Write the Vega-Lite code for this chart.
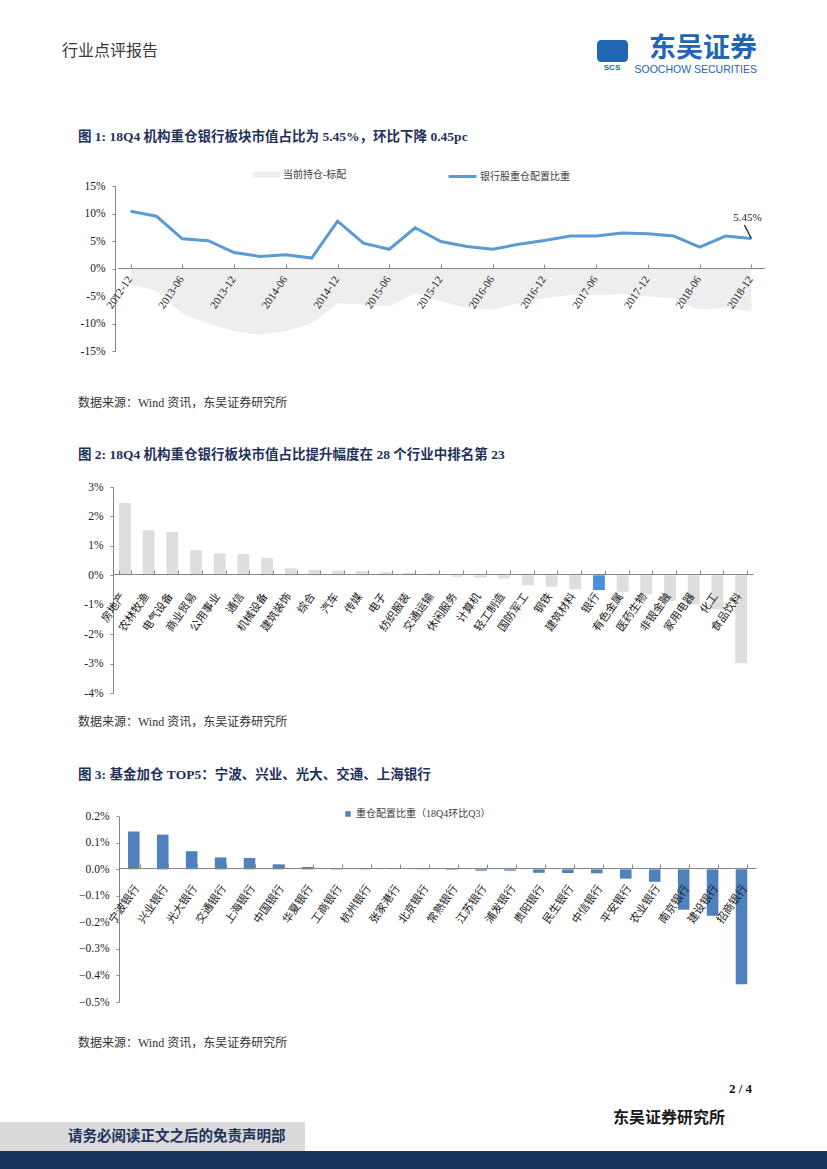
{
  "$schema": "https://vega.github.io/schema/vega-lite/v6.json",
  "background": "white",
  "padding": 0,
  "spacing": 0,
  "config": {"view": {"stroke": null}, "concat": {"spacing": 0}},
  "resolve": {"scale": {"color": "independent", "fill": "independent", "stroke": "independent"}, "legend": {"color": "independent", "fill": "independent", "stroke": "independent"}},
  "datasets": {
    "c1line": [
      {"d": "2012-12", "v": 10.4}, {"d": "2013-03", "v": 9.5}, {"d": "2013-06", "v": 5.4}, {"d": "2013-09", "v": 5.06},
      {"d": "2013-12", "v": 2.9}, {"d": "2014-03", "v": 2.2}, {"d": "2014-06", "v": 2.5}, {"d": "2014-09", "v": 1.9},
      {"d": "2014-12", "v": 8.6}, {"d": "2015-03", "v": 4.6}, {"d": "2015-06", "v": 3.5}, {"d": "2015-09", "v": 7.4},
      {"d": "2015-12", "v": 4.9}, {"d": "2016-03", "v": 4.0}, {"d": "2016-06", "v": 3.5}, {"d": "2016-09", "v": 4.4},
      {"d": "2016-12", "v": 5.1}, {"d": "2017-03", "v": 5.9}, {"d": "2017-06", "v": 5.9}, {"d": "2017-09", "v": 6.45},
      {"d": "2017-12", "v": 6.3}, {"d": "2018-03", "v": 5.9}, {"d": "2018-06", "v": 3.9}, {"d": "2018-09", "v": 5.9},
      {"d": "2018-12", "v": 5.45}
    ],
    "c1area": [
      {"d": "2012-12", "v": -2.9}, {"d": "2013-03", "v": -4.1}, {"d": "2013-06", "v": -8.2}, {"d": "2013-09", "v": -10.0},
      {"d": "2013-12", "v": -11.4}, {"d": "2014-03", "v": -12.1}, {"d": "2014-06", "v": -11.4}, {"d": "2014-09", "v": -10.0},
      {"d": "2014-12", "v": -6.3}, {"d": "2015-03", "v": -6.5}, {"d": "2015-06", "v": -6.9}, {"d": "2015-09", "v": -4.5},
      {"d": "2015-12", "v": -6.0}, {"d": "2016-03", "v": -7.2}, {"d": "2016-06", "v": -7.5}, {"d": "2016-09", "v": -6.3},
      {"d": "2016-12", "v": -5.4}, {"d": "2017-03", "v": -4.8}, {"d": "2017-06", "v": -4.8}, {"d": "2017-09", "v": -4.7},
      {"d": "2017-12", "v": -5.1}, {"d": "2018-03", "v": -5.4}, {"d": "2018-06", "v": -7.5}, {"d": "2018-09", "v": -7.2},
      {"d": "2018-12", "v": -7.8}
    ],
    "c1last": [{"d": "2018-12", "v": 5.45, "lab": "5.45%"}],
    "c2": [
      {"n": "房地产", "v": 2.46}, {"n": "农林牧渔", "v": 1.53}, {"n": "电气设备", "v": 1.47}, {"n": "商业贸易", "v": 0.85},
      {"n": "公用事业", "v": 0.74}, {"n": "通信", "v": 0.72}, {"n": "机械设备", "v": 0.59}, {"n": "建筑装饰", "v": 0.24},
      {"n": "综合", "v": 0.18}, {"n": "汽车", "v": 0.16}, {"n": "传媒", "v": 0.14}, {"n": "电子", "v": 0.11},
      {"n": "纺织服装", "v": 0.08}, {"n": "交通运输", "v": 0.06}, {"n": "休闲服务", "v": -0.05}, {"n": "计算机", "v": -0.08},
      {"n": "轻工制造", "v": -0.11}, {"n": "国防军工", "v": -0.34}, {"n": "钢铁", "v": -0.39}, {"n": "建筑材料", "v": -0.48},
      {"n": "银行", "v": -0.5}, {"n": "有色金属", "v": -0.56}, {"n": "医药生物", "v": -0.64}, {"n": "非银金融", "v": -0.87},
      {"n": "家用电器", "v": -0.99}, {"n": "化工", "v": -1.16}, {"n": "食品饮料", "v": -2.99}
    ],
    "c3": [
      {"n": "宁波银行", "v": 0.143}, {"n": "兴业银行", "v": 0.131}, {"n": "光大银行", "v": 0.068}, {"n": "交通银行", "v": 0.045},
      {"n": "上海银行", "v": 0.043}, {"n": "中国银行", "v": 0.019}, {"n": "华夏银行", "v": 0.009}, {"n": "工商银行", "v": 0.004},
      {"n": "杭州银行", "v": 0.001}, {"n": "张家港行", "v": 0.0005}, {"n": "北京银行", "v": -0.001}, {"n": "常熟银行", "v": -0.002},
      {"n": "江苏银行", "v": -0.005}, {"n": "浦发银行", "v": -0.005}, {"n": "贵阳银行", "v": -0.013}, {"n": "民生银行", "v": -0.014},
      {"n": "中信银行", "v": -0.015}, {"n": "平安银行", "v": -0.035}, {"n": "农业银行", "v": -0.047}, {"n": "南京银行", "v": -0.152},
      {"n": "建设银行", "v": -0.175}, {"n": "招商银行", "v": -0.433}
    ]
  },
  "vconcat": [
    {
      "width": 707,
      "height": 430,
      "layer": [
        {"data": {"values": [{}]}, "mark": {"type": "text", "text": "行业点评报告", "x": -6, "y": 50, "align": "left", "baseline": "middle", "font": "Noto Sans CJK SC", "fontSize": 16, "color": "#3a3a3a"}, "encoding": {}},
        {"data": {"values": [{}]}, "mark": {"type": "rule", "x": -6, "x2": 90, "y": 61, "y2": 61, "color": "#8a8a8a", "strokeWidth": 1}, "encoding": {}},
        {"data": {"values": [{}]}, "mark": {"type": "rect", "x": 529, "x2": 560, "y": 39, "y2": 61, "color": "#2166b3", "cornerRadius": 4}, "encoding": {}},
        {"data": {"values": [{}]}, "mark": {"type": "rule", "x": 537, "x2": 552, "y": 56, "y2": 44, "color": "white", "strokeWidth": 4, "strokeCap": "round"}, "encoding": {}},
        {"data": {"values": [{}]}, "mark": {"type": "text", "text": "SCS", "x": 544, "y": 67, "align": "center", "baseline": "middle", "font": "Liberation Sans", "fontWeight": "bold", "fontSize": 8, "color": "#2166b3"}, "encoding": {}},
        {"data": {"values": [{}]}, "mark": {"type": "rule", "x": 530, "x2": 560, "y": 72, "y2": 72, "color": "#f0a020", "strokeWidth": 2}, "encoding": {}},
        {"data": {"values": [{}]}, "mark": {"type": "text", "text": "东吴证券", "x": 689, "y": 48, "align": "right", "baseline": "middle", "font": "Noto Sans CJK SC", "fontWeight": "bold", "fontSize": 27, "color": "#2166b3"}, "encoding": {}},
        {"data": {"values": [{}]}, "mark": {"type": "text", "text": "SOOCHOW SECURITIES", "x": 689, "y": 69, "align": "right", "baseline": "middle", "font": "Liberation Sans", "fontSize": 10.5, "color": "#2166b3"}, "encoding": {}},
        {"data": {"values": [{}]}, "mark": {"type": "rule", "x": 696, "x2": 699, "y": 79, "y2": 79, "color": "#333", "strokeWidth": 1}, "encoding": {}},
        {"data": {"values": [{}]}, "mark": {"type": "text", "text": "图 1: 18Q4 机构重仓银行板块市值占比为 5.45%，环比下降 0.45pc", "x": 10, "y": 136, "align": "left", "baseline": "middle", "font": "Liberation Serif, Noto Sans CJK SC", "fontWeight": "bold", "fontSize": 13.5, "color": "#1f325a"}, "encoding": {}},
        {"data": {"values": [{}]}, "mark": {"type": "rule", "x": 0, "x2": 707, "y": 148, "y2": 148, "color": "#111", "strokeWidth": 2}, "encoding": {}},
        {"data": {"values": [{}]}, "mark": {"type": "rule", "x": 0, "x2": 707, "y": 385, "y2": 385, "color": "#222", "strokeWidth": 1.5}, "encoding": {}},
        {"data": {"values": [{}]}, "mark": {"type": "text", "text": "数据来源：Wind 资讯，东吴证券研究所", "x": 10, "y": 402, "align": "left", "baseline": "middle", "font": "Liberation Serif, Noto Sans CJK SC", "fontSize": 12, "color": "#333"}, "encoding": {}},
        {
          "data": {"name": "c1area"},
          "mark": {"type": "area", "opacity": 1},
          "encoding": {
            "x": {"field": "d", "type": "ordinal", "sort": null,
              "scale": {"type": "point", "range": [49.7, 696.3]},
              "axis": {"title": null, "values": ["2012-12", "2013-06", "2013-12", "2014-06", "2014-12", "2015-06", "2015-12", "2016-06", "2016-12", "2017-06", "2017-12", "2018-06", "2018-12"],
                "offset": -163, "zindex": 1, "labelAngle": -56, "labelAlign": "right", "labelBaseline": "middle", "labelOffset": -1, "labelPadding": 13,
                "labelFont": "Liberation Serif", "labelFontSize": 11, "labelColor": "#1a1a1a", "labelOverlap": false,
                "tickSize": -4, "tickColor": "#868686", "domainColor": "#868686", "grid": false}},
            "y": {"field": "v", "type": "quantitative",
              "scale": {"domain": [-15, 15], "range": [350, 185], "nice": false},
              "axis": {"title": null, "values": [-15, -10, -5, 0, 5, 10, 15], "labelExpr": "datum.value + '%'", "offset": -47,
                "tickSize": 3, "labelPadding": 7, "labelFont": "Liberation Serif", "labelFontSize": 11.5, "labelColor": "#1a1a1a",
                "tickColor": "#868686", "domainColor": "#868686", "grid": false}},
            "fill": {"datum": "当前持仓-标配", "type": "nominal",
              "scale": {"domain": ["当前持仓-标配"], "range": ["#eeeeee"]},
              "legend": {"orient": "none", "legendX": 185, "legendY": 160, "direction": "horizontal", "title": null,
                "labelFont": "Liberation Serif, Noto Sans CJK SC", "labelFontSize": 10, "labelColor": "#404040",
                "symbolType": "M-1,-0.22H1V0.22H-1Z", "symbolSize": 729, "symbolStrokeWidth": 0, "symbolOpacity": 1, "labelOffset": 3, "padding": 0}}
          }
        },
        {
          "data": {"name": "c1line"},
          "mark": {"type": "line", "strokeWidth": 3},
          "encoding": {
            "x": {"field": "d", "type": "ordinal", "sort": null},
            "y": {"field": "v", "type": "quantitative"},
            "stroke": {"datum": "银行股重仓配置比重", "type": "nominal",
              "scale": {"domain": ["银行股重仓配置比重"], "range": ["#5b9bd5"]},
              "legend": {"orient": "none", "legendX": 379, "legendY": 160, "direction": "horizontal", "title": null,
                "labelFont": "Liberation Serif, Noto Sans CJK SC", "labelFontSize": 10, "labelColor": "#404040",
                "symbolType": "stroke", "symbolSize": 784, "symbolStrokeWidth": 3, "labelOffset": 2, "padding": 0}}
          }
        },
        {
          "data": {"name": "c1last"},
          "mark": {"type": "rule", "color": "#111", "strokeWidth": 1.2, "x2Offset": -7},
          "encoding": {
            "x": {"field": "d", "type": "ordinal"},
            "x2": {"field": "d"},
            "y": {"field": "v", "type": "quantitative"},
            "y2": {"datum": 7.9}
          }
        },
        {
          "data": {"name": "c1last"},
          "mark": {"type": "text", "dy": -21, "dx": -4, "font": "Liberation Serif", "fontSize": 11, "color": "#222"},
          "encoding": {
            "x": {"field": "d", "type": "ordinal"},
            "y": {"field": "v", "type": "quantitative"},
            "text": {"field": "lab"}
          }
        }
      ]
    },
    {
      "width": 707,
      "height": 320,
      "layer": [
        {"data": {"values": [{}]}, "mark": {"type": "text", "text": "图 2: 18Q4 机构重仓银行板块市值占比提升幅度在 28 个行业中排名第 23", "x": 10, "y": 23, "align": "left", "baseline": "middle", "font": "Liberation Serif, Noto Sans CJK SC", "fontWeight": "bold", "fontSize": 13.5, "color": "#1f325a"}, "encoding": {}},
        {"data": {"values": [{}]}, "mark": {"type": "rule", "x": 0, "x2": 707, "y": 35, "y2": 35, "color": "#111", "strokeWidth": 2}, "encoding": {}},
        {"data": {"values": [{}]}, "mark": {"type": "rule", "x": 0, "x2": 707, "y": 276, "y2": 276, "color": "#222", "strokeWidth": 1.5}, "encoding": {}},
        {"data": {"values": [{}]}, "mark": {"type": "text", "text": "数据来源：Wind 资讯，东吴证券研究所", "x": 10, "y": 290, "align": "left", "baseline": "middle", "font": "Liberation Serif, Noto Sans CJK SC", "fontSize": 12, "color": "#333"}, "encoding": {}},
        {
          "data": {"name": "c2"},
          "mark": {"type": "bar"},
          "encoding": {
            "x": {"field": "n", "type": "nominal", "sort": null,
              "scale": {"type": "band", "range": [45, 685], "paddingInner": 0.5, "paddingOuter": 0.25},
              "axis": {"title": null, "offset": -178, "zindex": 1, "tickBand": "extent", "labelAngle": -55, "labelAlign": "right", "labelBaseline": "middle",
                "labelOffset": -2, "labelPadding": 24, "labelFont": "Noto Sans CJK SC", "labelFontSize": 11, "labelColor": "#1a1a1a", "labelOverlap": false,
                "tickSize": -4, "tickColor": "#868686", "domainColor": "#868686", "grid": false}},
            "y": {"field": "v", "type": "quantitative",
              "scale": {"domain": [-4, 3], "range": [261, 55], "nice": false},
              "axis": {"title": null, "values": [-4, -3, -2, -1, 0, 1, 2, 3], "labelExpr": "datum.value + '%'", "offset": -45,
                "tickSize": 3, "labelPadding": 7, "labelFont": "Liberation Serif", "labelFontSize": 11.5, "labelColor": "#1a1a1a",
                "tickColor": "#868686", "domainColor": "#868686", "grid": false}},
            "color": {"condition": {"test": "datum.n === '银行'", "value": "#4a8fd9"}, "value": "#dedede"}
          }
        }
      ]
    },
    {
      "width": 707,
      "height": 419,
      "layer": [
        {"data": {"values": [{}]}, "mark": {"type": "text", "text": "图 3: 基金加仓 TOP5：宁波、兴业、光大、交通、上海银行", "x": 10, "y": 22, "align": "left", "baseline": "middle", "font": "Liberation Serif, Noto Sans CJK SC", "fontWeight": "bold", "fontSize": 13.5, "color": "#1f325a"}, "encoding": {}},
        {"data": {"values": [{}]}, "mark": {"type": "rule", "x": 0, "x2": 707, "y": 34, "y2": 34, "color": "#111", "strokeWidth": 2}, "encoding": {}},
        {"data": {"values": [{}]}, "mark": {"type": "rule", "x": 0, "x2": 707, "y": 275, "y2": 275, "color": "#222", "strokeWidth": 1.5}, "encoding": {}},
        {"data": {"values": [{}]}, "mark": {"type": "text", "text": "数据来源：Wind 资讯，东吴证券研究所", "x": 10, "y": 290, "align": "left", "baseline": "middle", "font": "Liberation Serif, Noto Sans CJK SC", "fontSize": 12, "color": "#333"}, "encoding": {}},
        {"data": {"values": [{}]}, "mark": {"type": "text", "text": "2 / 4", "x": 684, "y": 336, "align": "right", "baseline": "middle", "font": "Liberation Serif", "fontWeight": "bold", "fontSize": 13, "color": "#111"}, "encoding": {}},
        {"data": {"values": [{}]}, "mark": {"type": "text", "text": "东吴证券研究所", "x": 657, "y": 365, "align": "right", "baseline": "middle", "font": "Noto Sans CJK SC", "fontWeight": "bold", "fontSize": 16, "color": "#1a1a1a"}, "encoding": {}},
        {"data": {"values": [{}]}, "mark": {"type": "rect", "x": -68, "x2": 237, "y": 369, "y2": 398, "color": "#dadada"}, "encoding": {}},
        {"data": {"values": [{}]}, "mark": {"type": "text", "text": "请务必阅读正文之后的免责声明部", "x": 0, "y": 384, "align": "left", "baseline": "middle", "font": "Noto Sans CJK SC", "fontWeight": "bold", "fontSize": 14.5, "color": "#1f325a"}, "encoding": {}},
        {"data": {"values": [{}]}, "mark": {"type": "rect", "x": -68, "x2": 759, "y": 398, "y2": 419, "color": "#17375e"}, "encoding": {}},
        {
          "data": {"name": "c3"},
          "mark": {"type": "bar"},
          "encoding": {
            "x": {"field": "n", "type": "nominal", "sort": null,
              "scale": {"type": "band", "range": [51.3, 688], "paddingInner": 0.6, "paddingOuter": 0.3},
              "axis": {"title": null, "offset": -304, "zindex": 1, "tickBand": "extent", "labelAngle": -55, "labelAlign": "right", "labelBaseline": "middle",
                "labelOffset": 3, "labelPadding": 22, "labelFont": "Noto Sans CJK SC", "labelFontSize": 11, "labelColor": "#1a1a1a", "labelOverlap": false,
                "tickSize": -4, "tickColor": "#868686", "domainColor": "#868686", "grid": false}},
            "y": {"field": "v", "type": "quantitative",
              "scale": {"domain": [-0.5, 0.2], "range": [249, 63.3], "nice": false},
              "axis": {"title": null, "values": [-0.5, -0.4, -0.3, -0.2, -0.1, 0, 0.1, 0.2], "labelExpr": "format(datum.value, '.1f') + '%'", "offset": -51,
                "tickSize": 3, "labelPadding": 7, "labelFont": "Liberation Serif", "labelFontSize": 11.5, "labelColor": "#1a1a1a",
                "tickColor": "#868686", "domainColor": "#868686", "grid": false}},
            "color": {"datum": "重仓配置比重（18Q4环比Q3）", "type": "nominal",
              "scale": {"domain": ["重仓配置比重（18Q4环比Q3）"], "range": ["#4f81bd"]},
              "legend": {"orient": "none", "legendX": 275, "legendY": 56, "direction": "horizontal", "title": null,
                "labelFont": "Liberation Serif, Noto Sans CJK SC", "labelFontSize": 10, "labelColor": "#404040",
                "symbolType": "square", "symbolSize": 30, "labelOffset": 3, "padding": 0}}
          }
        }
      ]
    }
  ]
}
